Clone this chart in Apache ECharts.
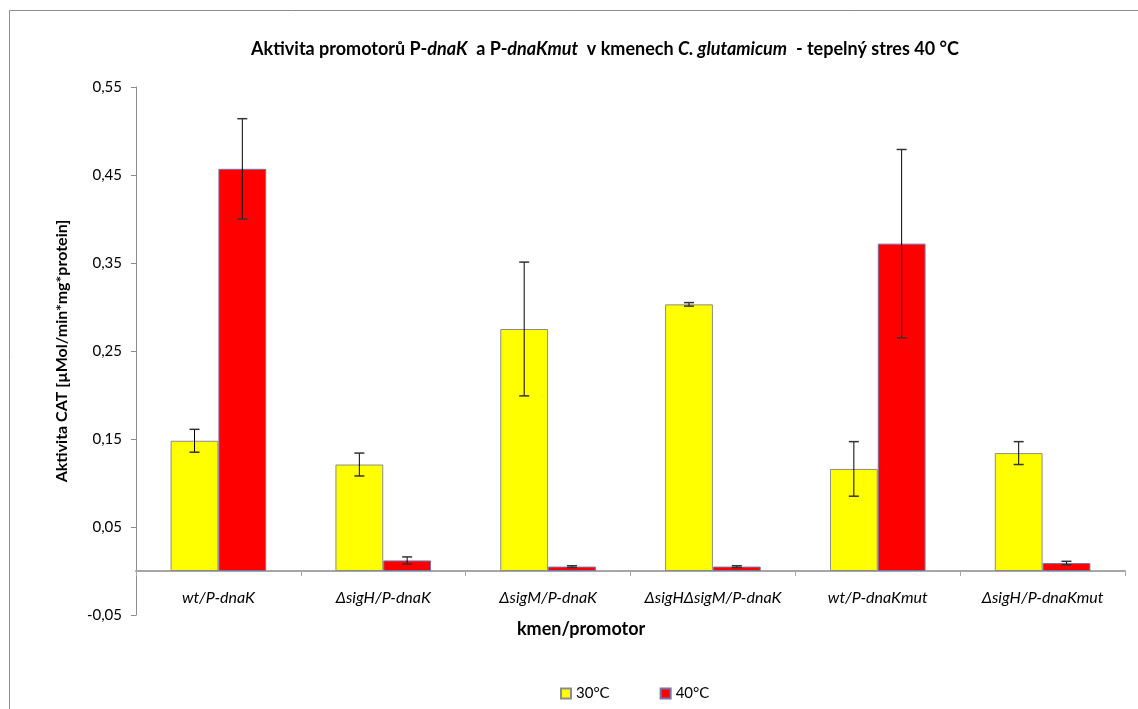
<!DOCTYPE html>
<html>
<head>
<meta charset="utf-8">
<script src="https://cdn.jsdelivr.net/npm/echarts@6/dist/echarts.min.js"></script>
<style>
  html, body { margin: 0; padding: 0; background: #fff; }
  #chart { width: 1138px; height: 709px; }
</style>
</head>
<body>
<div id="chart"></div>
<script>
// kmeny / promotory
var categories = ['wt/P-dnaK', 'ΔsigH/P-dnaK', 'ΔsigM/P-dnaK', 'ΔsigHΔsigM/P-dnaK', 'wt/P-dnaKmut', 'ΔsigH/P-dnaKmut'];
var seriesNames = ['30°C', '40°C'];
// aktivita CAT a smerodatne odchylky
var vals30 = [0.148, 0.121, 0.275, 0.303, 0.116, 0.134];
var err30 = [0.013, 0.013, 0.076, 0.002, 0.031, 0.013];
var vals40 = [0.457, 0.012, 0.005, 0.005, 0.372, 0.009];
var err40 = [0.057, 0.004, 0.001, 0.001, 0.107, 0.002];

var FONT = 'Lato, "Open Sans", sans-serif';
var GAP = 0.42; // barCategoryGap

function errData(vals, errs) {
  return vals.map(function (v, i) { return [i, v - errs[i], v + errs[i]]; });
}

function errRender(side) {
  return function (params, api) {
    var i = api.value(0);
    var lo = api.coord([i, api.value(1)]);
    var hi = api.coord([i, api.value(2)]);
    var w = api.size([1, 0])[0];
    var bw = w * (1 - GAP) / 2;
    var x = lo[0] + side * bw / 2;
    var cap = 5;
    return {
      type: 'group',
      children: [
        { type: 'line', shape: { x1: x, y1: hi[1], x2: x, y2: lo[1] }, style: { stroke: '#000', lineWidth: 1 } },
        { type: 'line', shape: { x1: x - cap, y1: hi[1], x2: x + cap, y2: hi[1] }, style: { stroke: '#333', lineWidth: 1.5 } },
        { type: 'line', shape: { x1: x - cap, y1: lo[1], x2: x + cap, y2: lo[1] }, style: { stroke: '#333', lineWidth: 1.5 } }
      ]
    };
  };
}

var chart = echarts.init(document.getElementById('chart'));
chart.setOption({
  animation: false,
  backgroundColor: '#fff',
  textStyle: { fontFamily: FONT },
  title: {
    left: 600,
    top: 35,
    textAlign: 'center',
    text: '{b|Aktivita promotorů P-}{i|dnaK}{b|  a P-}{i|dnaKmut}{b|  v kmenech }{i|C. glutamicum}{b|  - tepelný stres 40 °C}',
    textStyle: {
      rich: {
        b: { fontFamily: FONT, fontWeight: 'bold', fontSize: 18, color: '#000' },
        i: { fontFamily: FONT, fontWeight: 'bold', fontStyle: 'italic', fontSize: 18, color: '#000' }
      }
    }
  },
  legend: {
    data: seriesNames,
    left: 555,
    top: 681,
    itemWidth: 10,
    itemHeight: 10,
    itemGap: 50,
    icon: 'rect',
    textStyle: { fontFamily: FONT, fontSize: 15, color: '#000' }
  },
  graphic: [
    {
      type: 'polyline',
      shape: { points: [[9.5, 709], [9.5, 10.5], [1138, 10.5]] },
      style: { stroke: '#8c8c8c', lineWidth: 1, fill: null }
    },
    {
      type: 'text',
      left: 517,
      top: 620,
      style: { text: 'kmen/promotor', font: 'bold 18px ' + FONT, fill: '#000' }
    }
  ],
  grid: { left: 136, right: 13, top: 87, bottom: 94 },
  xAxis: {
    type: 'category',
    data: categories,
    axisLine: { onZero: true, lineStyle: { color: '#a6a6a6', width: 2 } },
    axisTick: { show: true, interval: 0, length: 5, lineStyle: { color: '#a6a6a6' } },
    axisLabel: { interval: 0, margin: -25, fontStyle: 'italic', fontSize: 16, color: '#000', fontFamily: FONT }
  },
  yAxis: {
    type: 'value',
    min: -0.05,
    max: 0.55,
    interval: 0.1,
    name: 'Aktivita CAT [µMol/min*mg*protein]',
    nameLocation: 'middle',
    nameGap: 66,
    nameTextStyle: { fontWeight: 'bold', fontSize: 16, color: '#000', fontFamily: FONT },
    axisLine: { show: true, lineStyle: { color: '#8c8c8c' } },
    axisTick: { show: true, length: 5, lineStyle: { color: '#8c8c8c' } },
    splitLine: { show: false },
    axisLabel: {
      fontSize: 15, color: '#000', margin: 14, fontFamily: FONT,
      formatter: function (v) { return v.toFixed(2).replace('.', ','); }
    }
  },
  series: [
    {
      name: seriesNames[0],
      type: 'bar',
      data: vals30,
      barGap: '0%',
      barCategoryGap: (GAP * 100) + '%',
      itemStyle: { color: '#ffff00', borderColor: '#8c8c8c', borderWidth: 1 }
    },
    {
      name: seriesNames[1],
      type: 'bar',
      data: vals40,
      itemStyle: { color: '#ff0000', borderColor: '#7474a8', borderWidth: 1 }
    },
    {
      type: 'custom',
      renderItem: errRender(-1),
      data: errData(vals30, err30),
      encode: { x: 0, y: [1, 2] },
      z: 10,
      silent: true
    },
    {
      type: 'custom',
      renderItem: errRender(1),
      data: errData(vals40, err40),
      encode: { x: 0, y: [1, 2] },
      z: 10,
      silent: true
    }
  ]
});
</script>
</body>
</html>
